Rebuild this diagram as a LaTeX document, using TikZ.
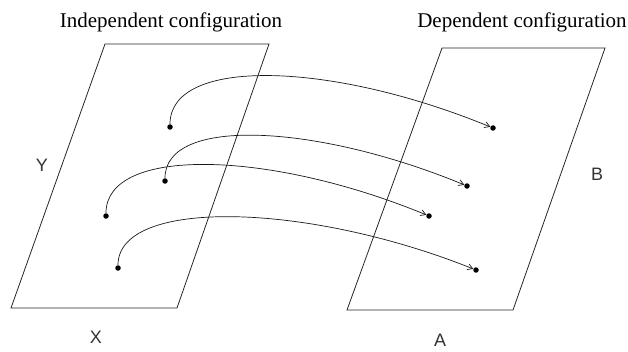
\documentclass[tikz,border=0pt]{standalone}
\usepackage{fontspec}
\setmainfont{Liberation Serif}
\newfontfamily\axisfont{Liberation Sans}
\usetikzlibrary{arrows.meta}

\begin{document}
\begin{tikzpicture}[
                x=1pt, y=1pt,
                plane/.style={draw=black!85, line width=0.8pt},
                title/.style={anchor=base, inner sep=0pt,
                        font=\fontsize{21}{25}\selectfont},
                axis/.style={inner sep=0pt, text=black!80,
                        font=\axisfont\fontsize{18}{20}\selectfont},
                dot/.style={circle, fill=black, inner sep=0pt,
                        minimum size=5.5pt},
                map/.style={draw=black!90, line width=0.7pt,
                        -{Straight Barb[length=5pt,width=6pt]}}
            ]
            \useasboundingbox (0,0) rectangle (628,351);

            % Titulos
            \node[title] (indep) at (171,323) {Independent configuration};
            \node[title] (dep)   at (522,323) {Dependent configuration};

            % Planos
            \draw[plane] (11,43) -- (177,43) -- (269,307) -- (105,307) -- cycle;
            \draw[plane] (347,41) -- (513,41) -- (605,303) -- (442,303) -- cycle;

            % Ejes
            \node[axis] (y) at (42,186) {Y};
            \node[axis] (x) at (96,14)  {X};
            \node[axis] (b) at (597,177) {B};
            \node[axis] (a) at (440,11) {A};

            % Puntos de partida
            \node[dot] (s1) at (170,224) {};
            \node[dot] (s2) at (165,170) {};
            \node[dot] (s3) at (106,135) {};
            \node[dot] (s4) at (118,83)  {};

            % Puntos de llegada
            \node[dot] (t1) at (493,223) {};
            \node[dot] (t2) at (467,165) {};
            \node[dot] (t3) at (429,135) {};
            \node[dot] (t4) at (476,81)  {};

            % Aplicaciones
            \draw[map] (s1) .. controls +(0,70) and +(-163,67) .. (t1);
            \draw[map] (s2) .. controls +(0,65) and +(-150,62) .. (t2);
            \draw[map] (s3) .. controls +(0,70) and +(-160,66) .. (t3);
            \draw[map] (s4) .. controls +(0,70) and +(-170,68) .. (t4);

        \end{tikzpicture}
\end{document}
